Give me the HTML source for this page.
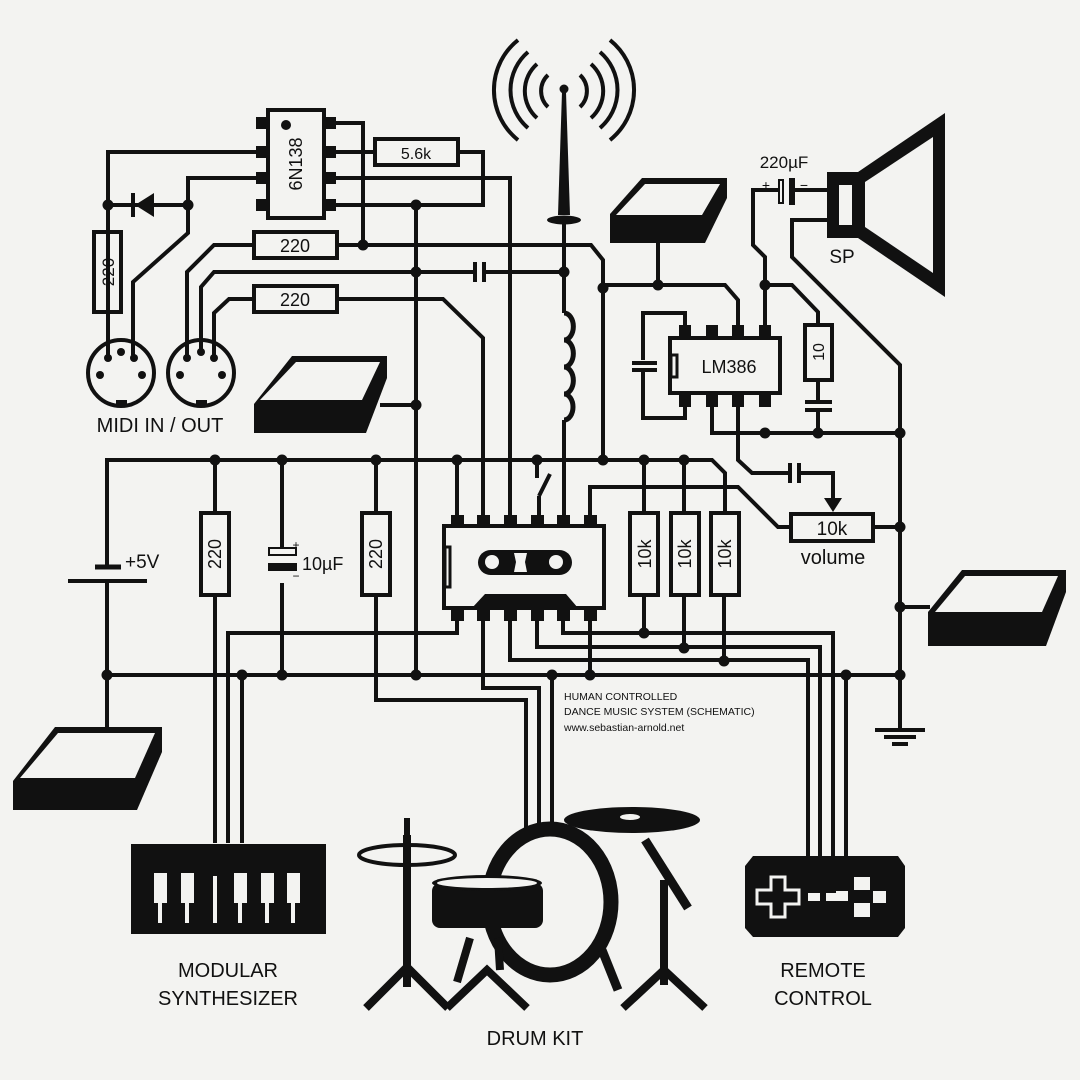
<!DOCTYPE html>
<html><head><meta charset="utf-8"><style>
html,body{margin:0;padding:0;background:#f3f3f1;}
svg{display:block;}
text{font-family:"Liberation Sans",sans-serif;fill:#111;}
</style></head><body>
<svg width="1080" height="1080" viewBox="0 0 1080 1080" xmlns="http://www.w3.org/2000/svg">
<rect width="1080" height="1080" fill="#f3f3f1"/>
<g fill="none" stroke="#111" stroke-width="4" stroke-linejoin="miter">
<path d="M268,152 H108 V355"/>
<path d="M268,178 H188 V233 L133,282 V355"/>
<path d="M324,123 H363 V245"/>
<path d="M324,152 H375 M458,152 H483 V205 H324"/>
<path d="M324,178 H510 V515"/>
<path d="M416,205 V675"/>
<path d="M254,245 H214 L187,272 V355"/>
<path d="M337,245 H591 L603,260 V460"/>
<path d="M201,355 V287 L214,272 H475 M484,272 H564"/>
<path d="M254,299 H229 L214,313 V355"/>
<path d="M337,299 H443 L483,338 V515"/>
<path d="M564,222 V313 M564,420 V515"/>
<path d="M380,405 H416"/>
<path d="M658,243 V285"/>
<path d="M603,285 H725 L738,300 V325"/>
<path d="M685,325 V313 H643 V360 M643,372 V418 H685 V407"/>
<path d="M765,325 V257 L753,245 V190 H778 M795,190 H827"/>
<path d="M765,285 H792 L818,312 V325 M818,380 V402 M818,410 V433"/>
<path d="M827,220 H792 V257 L900,365 V730"/>
<path d="M712,407 V433 H900"/>
<path d="M738,407 V460 L752,473 H790 M799,473 H833 V500"/>
<path d="M107,566 V460 H712 L725,473 V513"/>
<path d="M107,581 V727"/>
<path d="M107,675 H900"/>
<path d="M215,460 V513 M215,595 V843"/>
<path d="M282,460 V549 M282,583 V675"/>
<path d="M376,460 V513 M376,595 V700 H526 V830"/>
<path d="M457,460 V515"/>
<path d="M537,460 V478 M550,474 L539,496 M539,496 V515"/>
<path d="M644,460 V513 M644,595 V633"/>
<path d="M684,460 V513 M684,595 V648"/>
<path d="M724,595 V661"/>
<path d="M457,620 V633 H228 V843"/>
<path d="M242,675 V843"/>
<path d="M483,620 V688 H539 V828"/>
<path d="M552,675 V826"/>
<path d="M510,620 V660 H808 V856"/>
<path d="M537,620 V647 H820 V856"/>
<path d="M563,620 V633 H833 V856"/>
<path d="M846,675 V856"/>
<path d="M590,620 V675"/>
<path d="M590,515 V487 H738 L778,527 H791 M873,527 H900"/>
<path d="M900,607 H930"/>
<circle cx="121" cy="373" r="33"/>
<circle cx="201" cy="373" r="33"/>
<rect x="375" y="139" width="83" height="26"/>
<rect x="254" y="232" width="83" height="26"/>
<rect x="254" y="286" width="83" height="26"/>
<rect x="94" y="232" width="27" height="80"/>
<rect x="201" y="513" width="28" height="82"/>
<rect x="362" y="513" width="28" height="82"/>
<rect x="630" y="513" width="28" height="82"/>
<rect x="671" y="513" width="28" height="82"/>
<rect x="711" y="513" width="28" height="82"/>
<rect x="805" y="325" width="27" height="55"/>
<rect x="791" y="514" width="82" height="27"/>
<rect x="268" y="110" width="56" height="108"/>
<rect x="670" y="338" width="110" height="55"/>
<rect x="444" y="526" width="160" height="82"/>
<rect x="671" y="355" width="6" height="22" stroke-width="3"/>
<rect x="445" y="547" width="5" height="40" stroke-width="3"/>
<path d="M564,313 a9,13 0 0 1 0,27 a9,13 0 0 1 0,27 a9,13 0 0 1 0,27 a9,13 0 0 1 0,26" stroke-width="5"/>
<g stroke-width="4">
<path d="M548,75 A22,22 0 0 0 548,107"/><path d="M537,64 A36,36 0 0 0 537,118"/><path d="M528,52 A50,50 0 0 0 528,128"/><path d="M518,40 A64,64 0 0 0 518,140"/>
<path d="M580,75 A22,22 0 0 1 580,107"/><path d="M591,64 A36,36 0 0 1 591,118"/><path d="M600,52 A50,50 0 0 1 600,128"/><path d="M610,40 A64,64 0 0 1 610,140"/>
</g>
<path d="M875,730 H925 M884,737 H916 M892,744 H908" stroke-width="4"/>
<path d="M475,262 V282 M484,262 V282"/>
<path d="M632,363 H657 M632,370 H657"/>
<path d="M805,402 H832 M805,410 H832"/>
<path d="M790,463 V483 M799,463 V483"/>
<path d="M95,567 H121" stroke-width="5"/>
<path d="M68,581 H147"/>
<path d="M108,205 H188"/>
</g>
<g fill="#111">
<rect x="256" y="117" width="12" height="12"/><rect x="256" y="146" width="12" height="12"/><rect x="256" y="172" width="12" height="12"/><rect x="256" y="199" width="12" height="12"/>
<rect x="324" y="117" width="12" height="12"/><rect x="324" y="146" width="12" height="12"/><rect x="324" y="172" width="12" height="12"/><rect x="324" y="199" width="12" height="12"/>
<circle cx="286" cy="125" r="5"/>
<rect x="679" y="325" width="12" height="13"/><rect x="706" y="325" width="12" height="13"/><rect x="732" y="325" width="12" height="13"/><rect x="759" y="325" width="12" height="13"/>
<rect x="679" y="393" width="12" height="14"/><rect x="706" y="393" width="12" height="14"/><rect x="732" y="393" width="12" height="14"/><rect x="759" y="393" width="12" height="14"/>
<rect x="451" y="515" width="13" height="11"/><rect x="477" y="515" width="13" height="11"/><rect x="504" y="515" width="13" height="11"/><rect x="531" y="515" width="13" height="11"/><rect x="557" y="515" width="13" height="11"/><rect x="584" y="515" width="13" height="11"/>
<rect x="451" y="608" width="13" height="13"/><rect x="477" y="608" width="13" height="13"/><rect x="504" y="608" width="13" height="13"/><rect x="531" y="608" width="13" height="13"/><rect x="557" y="608" width="13" height="13"/><rect x="584" y="608" width="13" height="13"/>
<polygon points="472,608 485,594 566,594 578,608"/>
<rect x="478" y="550" width="94" height="25" rx="12.5"/>
<polygon points="154,193 154,217 135,205"/>
<rect x="131" y="193" width="4" height="24"/>
<polygon points="562,92 566,92 570,215 558,215"/>
<circle cx="564" cy="89" r="4.5"/>
<ellipse cx="564" cy="220" rx="17" ry="4.5"/>
<rect x="827" y="172" width="38" height="66"/>
<polygon points="858,172 945,113 945,297 858,238"/>
<rect x="789" y="178" width="6" height="27"/>
<rect x="268" y="563" width="29" height="8"/>
<polygon points="824,498 842,498 833,512"/>
<circle cx="108" cy="205" r="5.5"/><circle cx="188" cy="205" r="5.5"/><circle cx="416" cy="205" r="5.5"/>
<circle cx="363" cy="245" r="5.5"/><circle cx="416" cy="272" r="5.5"/><circle cx="564" cy="272" r="5.5"/>
<circle cx="603" cy="288" r="5.5"/><circle cx="658" cy="285" r="5.5"/><circle cx="765" cy="285" r="5.5"/>
<circle cx="416" cy="405" r="5.5"/>
<circle cx="765" cy="433" r="5.5"/><circle cx="818" cy="433" r="5.5"/><circle cx="900" cy="433" r="5.5"/>
<circle cx="215" cy="460" r="5.5"/><circle cx="282" cy="460" r="5.5"/><circle cx="376" cy="460" r="5.5"/><circle cx="457" cy="460" r="5.5"/><circle cx="537" cy="460" r="5.5"/><circle cx="603" cy="460" r="5.5"/><circle cx="644" cy="460" r="5.5"/><circle cx="684" cy="460" r="5.5"/>
<circle cx="900" cy="527" r="5.5"/><circle cx="900" cy="607" r="5.5"/>
<circle cx="644" cy="633" r="5.5"/><circle cx="684" cy="648" r="5.5"/><circle cx="724" cy="661" r="5.5"/>
<circle cx="107" cy="675" r="5.5"/><circle cx="242" cy="675" r="5.5"/><circle cx="282" cy="675" r="5.5"/><circle cx="416" cy="675" r="5.5"/><circle cx="552" cy="675" r="5.5"/><circle cx="590" cy="675" r="5.5"/><circle cx="846" cy="675" r="5.5"/><circle cx="900" cy="675" r="5.5"/>
<circle cx="108" cy="358" r="4"/><circle cx="121" cy="352" r="4"/><circle cx="134" cy="358" r="4"/><circle cx="100" cy="375" r="4"/><circle cx="142" cy="375" r="4"/><rect x="116" y="400" width="11" height="6"/>
<circle cx="187" cy="358" r="4"/><circle cx="201" cy="352" r="4"/><circle cx="214" cy="358" r="4"/><circle cx="180" cy="375" r="4"/><circle cx="222" cy="375" r="4"/><rect x="196" y="400" width="11" height="6"/>
<polygon points="292,356 387,356 387,378 366,433 254,433 254,404"/>
<polygon points="642,178 727,178 727,198 705,243 610,243 610,214"/>
<polygon points="962,570 1066,570 1066,592 1046,646 928,646 928,612"/>
<polygon points="55,727 162,727 162,752 137,810 13,810 13,781"/>
</g>
<g fill="#f3f3f1">
<rect x="779" y="180" width="4" height="23" stroke="#111" stroke-width="2"/>
<rect x="839" y="185" width="13" height="40"/>
<polygon points="865,182 933,137 933,273 865,227"/>
<rect x="269" y="548" width="27" height="7" stroke="#111" stroke-width="2"/>
<circle cx="492" cy="562" r="7"/><circle cx="556" cy="562" r="7"/>
<polygon points="514,553 527,553 525,562 527,572 514,572 516,562"/>
<polygon points="296,362 380,362 362,400 260,400"/>
<polygon points="645,184 720,184 702,215 616,215"/>
<polygon points="965,576 1058,576 1042,612 935,612"/>
<polygon points="58,733 155,733 135,778 20,778"/>
</g>
<rect x="131" y="844" width="195" height="90" fill="#111"/>
<g fill="#f3f3f1">
<rect x="154" y="873" width="13" height="30"/><rect x="158" y="900" width="4" height="23"/>
<rect x="181" y="873" width="13" height="30"/><rect x="185" y="900" width="4" height="23"/>
<rect x="213" y="876" width="4" height="47"/>
<rect x="234" y="873" width="13" height="30"/><rect x="238" y="900" width="4" height="23"/>
<rect x="261" y="873" width="13" height="30"/><rect x="265" y="900" width="4" height="23"/>
<rect x="287" y="873" width="13" height="30"/><rect x="291" y="900" width="4" height="23"/>
</g>
<path d="M753,856 H898 L905,866 V928 L898,937 H753 L745,928 V866 Z" fill="#111"/>
<g fill="none" stroke="#f3f3f1" stroke-width="3">
<path d="M757,890 H771 V877 H785 V890 H799 V904 H785 V917 H771 V904 H757 Z"/>
</g>
<g fill="#f3f3f1">
<rect x="808" y="893" width="12" height="8"/><rect x="826" y="893" width="12" height="8"/>
<rect x="854" y="877" width="16" height="13"/><rect x="836" y="891" width="12" height="10"/><rect x="873" y="891" width="13" height="12"/><rect x="854" y="903" width="16" height="14"/>
</g>
<g stroke="#111" fill="none">
<ellipse cx="407" cy="855" rx="48" ry="10" stroke-width="4"/>
<path d="M407,835 V987 M366,1008 L407,967 L448,1008" stroke-width="8"/>
<ellipse cx="550" cy="902" rx="61" ry="73" stroke-width="15"/>
<path d="M447,1008 L487,970 L527,1008" stroke-width="8"/>
<path d="M470,938 L457,982 M498,938 L500,970" stroke-width="8"/>
<path d="M602,950 L618,990" stroke-width="9"/>
<path d="M645,840 L688,908" stroke-width="9"/>
<path d="M664,880 V985 M623,1008 L664,970 L705,1008" stroke-width="8"/>
</g>
<g fill="#111">
<ellipse cx="632" cy="820" rx="68" ry="13"/>
<rect x="432" y="883" width="111" height="45" rx="8"/>
<rect x="404" y="818" width="6" height="40"/>
</g>
<ellipse cx="487" cy="883" rx="55" ry="8" fill="#111"/>
<ellipse cx="487" cy="883" rx="50" ry="5" fill="#f3f3f1"/>
<ellipse cx="630" cy="817" rx="10" ry="3" fill="#f3f3f1"/>
<text x="416" y="159" font-size="16" text-anchor="middle">5.6k</text>
<text x="295" y="252" font-size="18" text-anchor="middle">220</text>
<text x="295" y="306" font-size="18" text-anchor="middle">220</text>
<text transform="translate(114,272) rotate(-90)" font-size="17" text-anchor="middle">220</text>
<text transform="translate(221,554) rotate(-90)" font-size="18" text-anchor="middle">220</text>
<text transform="translate(382,554) rotate(-90)" font-size="18" text-anchor="middle">220</text>
<text transform="translate(651,554) rotate(-90)" font-size="18" text-anchor="middle">10k</text>
<text transform="translate(691,554) rotate(-90)" font-size="18" text-anchor="middle">10k</text>
<text transform="translate(731,554) rotate(-90)" font-size="18" text-anchor="middle">10k</text>
<text transform="translate(824,352) rotate(-90)" font-size="16" text-anchor="middle">10</text>
<text transform="translate(302,164) rotate(-90)" font-size="18" text-anchor="middle">6N138</text>
<text x="729" y="373" font-size="18" text-anchor="middle">LM386</text>
<text x="832" y="535" font-size="19" text-anchor="middle">10k</text>
<text x="833" y="564" font-size="20" text-anchor="middle">volume</text>
<text x="784" y="168" font-size="17" text-anchor="middle">220µF</text>
<text x="766" y="190" font-size="14" text-anchor="middle">+</text>
<text x="804" y="190" font-size="14" text-anchor="middle">−</text>
<text x="842" y="263" font-size="19" text-anchor="middle">SP</text>
<text x="125" y="568" font-size="19">+5V</text>
<text x="302" y="570" font-size="18">10µF</text>
<text x="296" y="549" font-size="12" text-anchor="middle">+</text>
<text x="296" y="580" font-size="12" text-anchor="middle">−</text>
<text x="160" y="432" font-size="20" text-anchor="middle">MIDI IN / OUT</text>
<text x="564" y="700" font-size="10.5">HUMAN CONTROLLED</text>
<text x="564" y="715" font-size="10.5">DANCE MUSIC SYSTEM (SCHEMATIC)</text>
<text x="564" y="731" font-size="10.5">www.sebastian-arnold.net</text>
<text x="228" y="977" font-size="20" text-anchor="middle">MODULAR</text>
<text x="228" y="1005" font-size="20" text-anchor="middle">SYNTHESIZER</text>
<text x="823" y="977" font-size="20" text-anchor="middle">REMOTE</text>
<text x="823" y="1005" font-size="20" text-anchor="middle">CONTROL</text>
<text x="535" y="1045" font-size="20" text-anchor="middle">DRUM KIT</text>
</svg>
</body></html>
